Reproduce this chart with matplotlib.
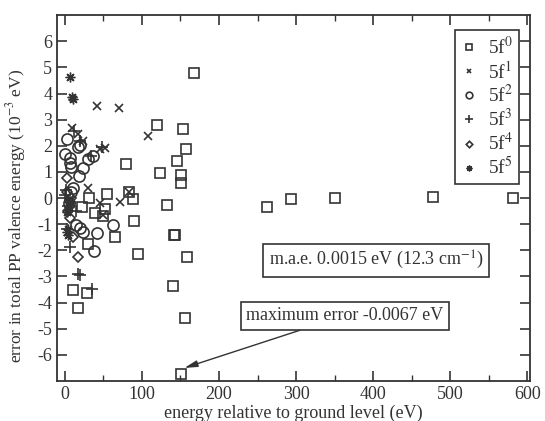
import matplotlib.pyplot as plt
from matplotlib.ticker import MultipleLocator

plt.rcParams['font.family'] = 'Liberation Serif'
plt.rcParams['mathtext.fontset'] = 'stix'
plt.rcParams['axes.unicode_minus'] = False

gris = '#333333'

# valores (energía en eV, error en 1e-3 eV)
f0_x = [168, 119, 153, 157, 146, 124, 151, 151, 79, 132, 83, 88, 55, 31, 22, 39, 52, 50,
        90, 65, 143, 142, 95, 159, 140, 156, 151, 30, 10, 29, 17, 262, 293, 351, 478, 582]
f0_y = [4.8, 2.8, 2.65, 1.88, 1.42, 0.96, 0.88, 0.58, 1.3, -0.28, 0.25, -0.03, 0.16, 0.0,
        -0.36, -0.56, -0.4, -0.68, -0.86, -1.5, -1.4, -1.42, -2.15, -2.27, -3.35, -4.6,
        -6.72, -1.74, -3.5, -3.62, -4.2, -0.35, -0.04, 0.0, 0.04, 0.0]

f1_x = [41, 70, 108, 9, 17, 24, 45, 52, 30, 45, 72, 83, 50, 6]
f1_y = [3.54, 3.46, 2.36, 2.7, 2.45, 2.2, 1.88, 1.92, 0.38, -0.2, -0.16, 0.24, -0.65, -0.05]

f2_x = [2.5, 0, 6, 7, 8, 17, 20, 23, 18, 36, 30, 8, 10, 19, 24, 42, 38, 63, 14, 5]
f2_y = [2.27, 1.7, 1.55, 1.35, 1.2, 1.97, 2.05, 1.15, 0.83, 1.6, 1.5, 0.25, 0.38, -1.15,
        -1.3, -1.32, -2.03, -1.04, -1.04, -0.2]

f3_x = [12, 20, 34, 48, 2, 0, 4, 15, 6.5, 17, 20, 35, 3]
f3_y = [2.55, 2.2, 1.6, 1.95, 0.3, 0.1, -0.3, -0.5, -1.87, -2.9, -2.95, -3.47, -1.2]

f4_x = [2.5, 3, 6, 6, 10, 17, 4, 8]
f4_y = [0.77, 0.22, -0.15, -0.78, -1.5, -2.27, -0.5, 0.0]

f5_x = [6.5, 9, 10, 2.5, 3.5, 4, 5, 6, 3]
f5_y = [4.65, 3.85, 3.78, -1.3, -1.42, -1.2, -0.35, -0.15, -0.55]

fig = plt.figure(figsize=(5.45, 4.21), dpi=100)
ax = fig.add_axes([0.105, 0.095, 0.868, 0.869])

ax.plot(f0_x, f0_y, 's', mfc='none', mec=gris, ms=7, mew=1.2, label='5f$^0$')
ax.plot(f1_x, f1_y, 'x', color=gris, ms=6, mew=1.2, label='5f$^1$')
ax.plot(f2_x, f2_y, 'o', mfc='none', mec=gris, ms=8, mew=1.2, label='5f$^2$')
ax.plot(f3_x, f3_y, '+', color=gris, ms=9, mew=1.2, label='5f$^3$')
ax.plot(f4_x, f4_y, 'D', mfc='none', mec=gris, ms=5.5, mew=1.2, label='5f$^4$')
ax.plot(f5_x, f5_y, marker=(8, 2, 0), ls='none', color=gris, ms=7, mew=1.0, label='5f$^5$')

ax.set_xlim(-10, 604)
ax.set_ylim(-7, 7)
ax.set_yticks(range(-6, 7))
ax.xaxis.set_major_locator(MultipleLocator(100))
ax.xaxis.set_minor_locator(MultipleLocator(50))
ax.tick_params(which='both', direction='in', top=True, right=True, labelsize=13,
               colors=gris, labelcolor=gris)
ax.tick_params(which='major', length=7, width=1.2)
ax.tick_params(which='minor', length=4, width=1.0)
for s in ax.spines.values():
    s.set_linewidth(1.3)
    s.set_color(gris)

ax.set_xlabel('energy relative to ground level (eV)', fontsize=13, color=gris, labelpad=1)
ax.set_ylabel('error in total PP valence energy (10$^{-3}$ eV)', fontsize=12.5, color=gris)
ax.yaxis.set_label_coords(-0.062, 0.45)

leg = ax.legend(loc='upper right', fontsize=14, fancybox=False, framealpha=1,
                edgecolor=gris, markerscale=0.6, handlelength=0.8, handletextpad=0.6,
                labelspacing=0.1, borderpad=0.3, bbox_to_anchor=(0.997, 0.985))
leg.get_frame().set_linewidth(1.2)
for t in leg.get_texts():
    t.set_color(gris)

caja = dict(boxstyle='square,pad=0.3', fc='white', ec=gris, lw=1.2)
ax.text(404, -2.38, 'm.a.e. 0.0015 eV (12.3 cm$^{-1}$)', fontsize=13, color=gris,
        ha='center', va='center', bbox=caja)
ax.annotate('maximum error -0.0067 eV', xy=(155, -6.5), xytext=(363, -4.5),
            fontsize=13, color=gris, ha='center', va='center', bbox=caja,
            arrowprops=dict(arrowstyle='-|>,head_length=0.6,head_width=0.15', color=gris,
                            lw=1.0, shrinkA=0, shrinkB=0))

fig.savefig('out.png', dpi=100)
